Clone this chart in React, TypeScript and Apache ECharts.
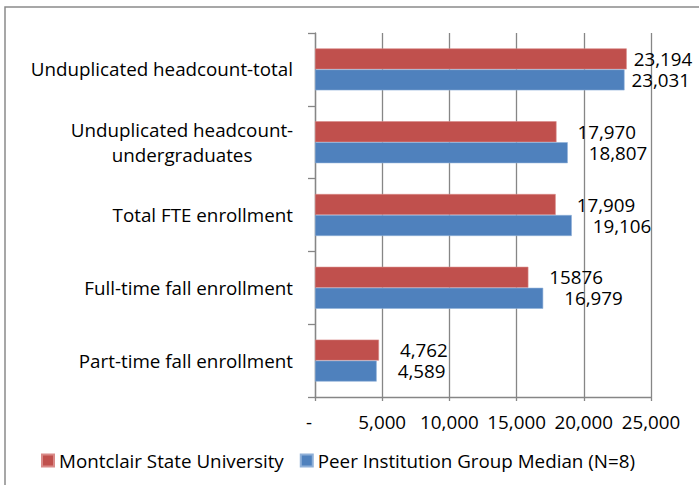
import React, { useEffect, useRef } from "react";
import * as echarts from "echarts";

const categories = [
  "Unduplicated headcount-total",
  "Unduplicated headcount-\nundergraduates",
  "Total FTE enrollment",
  "Full-time fall enrollment",
  "Part-time fall enrollment",
];
const seriesNames = ["Montclair State University", "Peer Institution Group Median (N=8)"];
const montclairValues = [23194, 17970, 17909, 15876, 4762];
const peerValues = [23031, 18807, 19106, 16979, 4589];
const montclairLabels = ["23,194", "17,970", "17,909", "15876", "4,762"];
const peerLabels = ["23,031", "18,807", "19,106", "16,979", "4,589"];
const xTicks = { min: 0, max: 25000, interval: 5000 };

const FONT = "'Open Sans', sans-serif";
const FS = 18.8;
const RED = "#C0504D";
const BLUE = "#4F81BD";
const GRID = "#868686";

export default function App() {
  const ref = useRef<HTMLDivElement>(null);
  useEffect(() => {
    document.body.style.margin = "0";
    const chart = echarts.init(ref.current!, null, { renderer: "svg" });
    const mkData = (vals: number[], labels: string[]) =>
      vals.map((v, i) => ({
        value: v,
        label: { formatter: labels[i], distance: v > 21000 ? 7 : 21 },
      }));
    chart.setOption({
      animation: false,
      backgroundColor: "#ffffff",
      textStyle: { fontFamily: FONT },
      graphic: [
        {
          type: "rect",
          shape: { x: 5, y: 7, width: 720, height: 500 },
          style: { fill: "none", stroke: "#8a8a8a", lineWidth: 1.5 },
          silent: true,
        },
      ],
      grid: { left: 315, top: 33, right: 48, bottom: 88, containLabel: false },
      legend: {
        left: 36,
        top: 446,
        icon: "rect",
        itemWidth: 12,
        itemHeight: 12,
        itemGap: 16,
        textStyle: { fontSize: FS, color: "#000", fontFamily: FONT },
        data: seriesNames,
      },
      xAxis: {
        type: "value",
        min: xTicks.min,
        max: xTicks.max,
        interval: xTicks.interval,
        axisLine: { show: true, lineStyle: { color: GRID, width: 1.3 } },
        axisTick: { show: true, length: 4, lineStyle: { color: GRID, width: 1.3 } },
        splitLine: { show: true, lineStyle: { color: GRID, width: 1.3 } },
        axisLabel: {
          color: "#000",
          fontSize: FS,
          fontFamily: FONT,
          margin: 15,
          formatter: (v: number) => (v === 0 ? "{z|-}" : v.toLocaleString("en-US")),
          rich: { z: { fontSize: FS, fontFamily: FONT, color: "#000", padding: [0, 12, 0, 0] } },
        },
      },
      yAxis: {
        type: "category",
        data: categories,
        inverse: true,
        axisLine: { show: true, lineStyle: { color: GRID, width: 1.3 } },
        axisTick: { show: true, length: 7, interval: 0, lineStyle: { color: GRID, width: 1.3 } },
        splitLine: { show: false },
        axisLabel: {
          color: "#000",
          fontSize: FS,
          fontFamily: FONT,
          margin: 22,
          interval: 0,
          formatter: (v: string) =>
            v.includes("\n")
              ? v
                  .split("\n")
                  .map((s) => "{c|" + s + "}")
                  .join("\n")
              : v,
          rich: {
            c: { fontSize: FS, fontFamily: FONT, color: "#000", width: 222, align: "center", lineHeight: 25 },
          },
        },
      },
      series: [
        {
          name: seriesNames[0],
          type: "bar",
          barWidth: 21,
          barGap: "0%",
          itemStyle: { color: RED, borderColor: "#d98a88", borderWidth: 0.6 },
          label: { show: true, position: "right", color: "#000", fontSize: FS, fontFamily: FONT, lineHeight: 18 },
          data: mkData(montclairValues, montclairLabels),
        },
        {
          name: seriesNames[1],
          type: "bar",
          barWidth: 21,
          barGap: "0%",
          itemStyle: { color: BLUE, borderColor: "#8fb0d8", borderWidth: 0.6 },
          label: { show: true, position: "right", color: "#000", fontSize: FS, fontFamily: FONT, lineHeight: 18 },
          data: mkData(peerValues, peerLabels),
        },
      ],
    });
    return () => chart.dispose();
  }, []);
  return <div ref={ref} style={{ width: 699, height: 485 }} />;
}
